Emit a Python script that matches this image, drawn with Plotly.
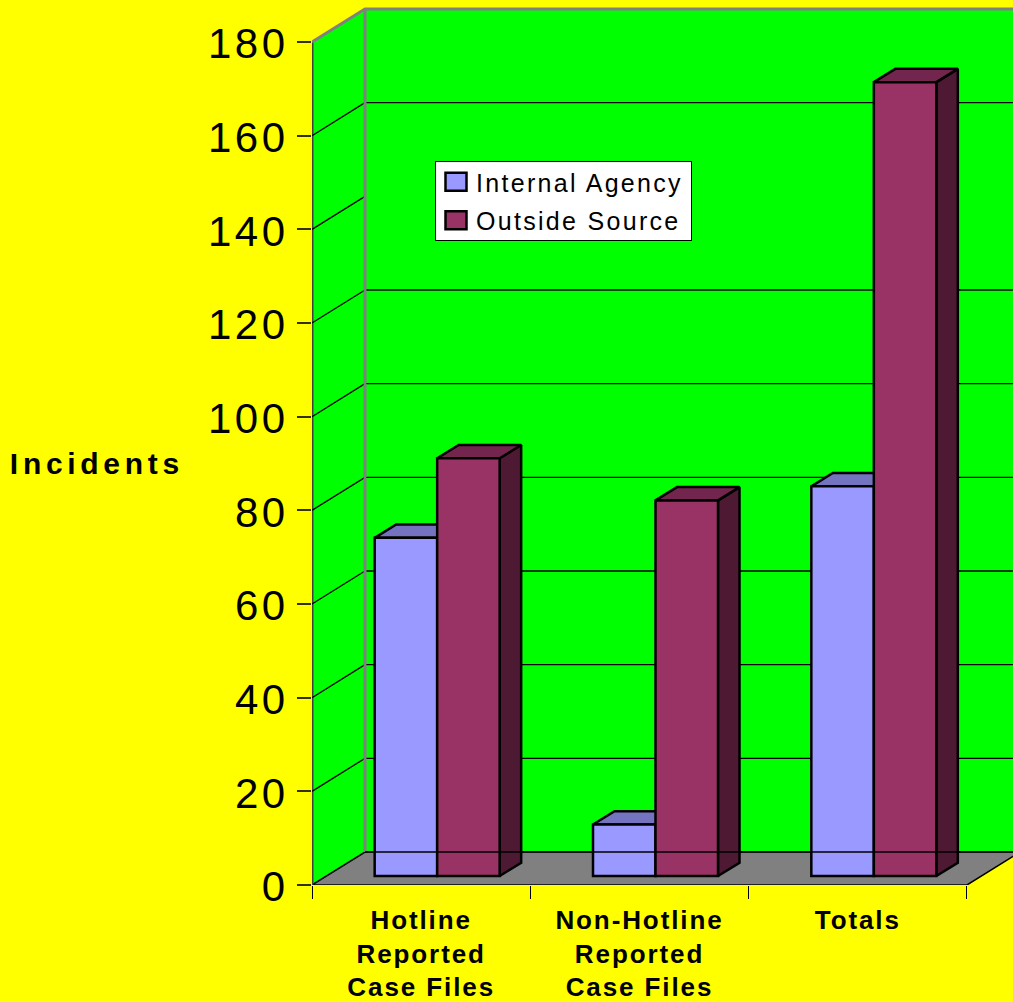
import plotly.graph_objects as go

# Incident counts by category and source
categories = ["Hotline<br>Reported<br>Case Files", "Non-Hotline<br>Reported<br>Case Files", "Totals"]
internal_agency = [72.2, 11, 83.2]
outside_source = [89.2, 80.2, 169.5]
y_ticks = [0, 20, 40, 60, 80, 100, 120, 140, 160, 180]
side_wall_grid = [20, 40, 60, 80, 100, 120, 140, 160]
back_wall_grid = [20, 40, 60, 80, 100, 120, 160]

# Pixel scale of the plotting box and the oblique projection, in axis units
PX_PER_CAT = 218.33
PX_PER_UNIT = 843 / 180
WALL_DX, WALL_DY = 53 / PX_PER_CAT, 33 / PX_PER_UNIT
FRONT_DX, FRONT_DY = 16 / PX_PER_CAT, 9 / PX_PER_UNIT
BAR_DX, BAR_DY = 21.5 / PX_PER_CAT, 13.3 / PX_PER_UNIT
GROUP_WIDTH = 125 / PX_PER_CAT
BAR_W = GROUP_WIDTH / 2
X_MAX = 701 / PX_PER_CAT
Y_MAX = 885 / PX_PER_UNIT

FONT = "Liberation Sans"
GREEN, GREY = "#00FF00", "#808080"
EDGE = 2.5
n = len(categories)
top = y_ticks[-1]
centers = [i + 0.5 for i in range(n)]


def poly(points):
    return "M" + "L".join(f"{x},{y}" for x, y in points) + "Z"


def faces(values, left_shift):
    """Top and right side faces of a box series, as None-separated polygons."""
    tx, ty, sx, sy = [], [], [], []
    for c, v in zip(centers, values):
        x0 = c + FRONT_DX + left_shift
        x1 = x0 + BAR_W
        y0 = FRONT_DY
        y1 = v + FRONT_DY
        tx += [x0, x1, x1 + BAR_DX, x0 + BAR_DX, x0, None]
        ty += [y1, y1, y1 + BAR_DY, y1 + BAR_DY, y1, None]
        sx += [x1, x1 + BAR_DX, x1 + BAR_DX, x1, x1, None]
        sy += [y0, y0 + BAR_DY, y1 + BAR_DY, y1, y0, None]
    return tx, ty, sx, sy


fig = go.Figure()

# Wall gridlines
gx, gy = [], []
for v in side_wall_grid:
    gx += [0, WALL_DX, None]
    gy += [v, v + WALL_DY, None]
for v in back_wall_grid:
    gx += [WALL_DX, n + WALL_DX, None]
    gy += [v + WALL_DY, v + WALL_DY, None]
fig.add_trace(go.Scatter(x=gx, y=gy, mode="lines", line=dict(color="black", width=1.3),
                         showlegend=False, hoverinfo="skip"))

# Grey frame of the walls
fig.add_trace(go.Scatter(
    x=[WALL_DX, WALL_DX, None, 0, WALL_DX, n + WALL_DX],
    y=[WALL_DY, top + WALL_DY, None, top, top + WALL_DY, top + WALL_DY],
    mode="lines", line=dict(color=GREY, width=3), showlegend=False, hoverinfo="skip"))

# Depth faces sit underneath the front faces, which live on the overlay axes
series = [
    ("Internal Agency", internal_agency, "#9999FF", "#7373BF", "#4D4D80", -BAR_W),
    ("Outside Source", outside_source, "#993366", "#73264D", "#4D1933", 0),
]
for name, values, front, top_c, side_c, shift in series:
    tx, ty, sx, sy = faces(values, shift)
    fig.add_trace(go.Scatter(x=sx, y=sy, mode="lines", fill="toself", fillcolor=side_c,
                             line=dict(color="black", width=EDGE), showlegend=False, hoverinfo="skip"))
    fig.add_trace(go.Scatter(x=tx, y=ty, mode="lines", fill="toself", fillcolor=top_c,
                             line=dict(color="black", width=EDGE), showlegend=False, hoverinfo="skip"))

for name, values, front, top_c, side_c, shift in series:
    fig.add_trace(go.Bar(
        name=name, x=[c + FRONT_DX for c in centers], y=values, base=[FRONT_DY] * n,
        marker=dict(color=front, line=dict(color="black", width=EDGE)),
        xaxis="x2", yaxis="y2"))

# The rear floor edge stays visible across the boxes
fig.add_trace(go.Scatter(x=[WALL_DX, n + WALL_DX], y=[WALL_DY, WALL_DY], mode="lines",
                         line=dict(color="black", width=1.5), xaxis="x2", yaxis="y2",
                         showlegend=False, hoverinfo="skip"))

shapes = [
    dict(type="path", layer="below", line=dict(width=0), fillcolor=GREEN,
         path=poly([(0, 0), (WALL_DX, WALL_DY), (WALL_DX, top + WALL_DY), (0, top)])),
    dict(type="path", layer="below", line=dict(width=0), fillcolor=GREEN,
         path=poly([(WALL_DX, WALL_DY), (n + WALL_DX, WALL_DY),
                    (n + WALL_DX, top + WALL_DY), (WALL_DX, top + WALL_DY)])),
    dict(type="path", layer="below", line=dict(color="black", width=1.5), fillcolor=GREY,
         path=poly([(0, 0), (n, 0), (n + WALL_DX, WALL_DY), (WALL_DX, WALL_DY)])),
    dict(type="line", layer="below", x0=0, x1=0, y0=0, y1=top, line=dict(color="#404040", width=3)),
]

fig.update_layout(
    width=1013, height=1002,
    margin=dict(l=312, r=0, t=0, b=117, autoexpand=False),
    paper_bgcolor="#FFFF00", plot_bgcolor="#FFFF00",
    font=dict(family=FONT, color="black"),
    barmode="group", bargap=1 - GROUP_WIDTH, bargroupgap=0,
    shapes=shapes,
    xaxis=dict(range=[0, X_MAX], showgrid=False, zeroline=False, showline=False,
               tickmode="array", tickvals=centers, ticktext=[f"<b>{c}</b>" for c in categories],
               tickangle=0, ticks="outside", ticklen=11.5, tickcolor="rgba(0,0,0,0)",
               tickfont=dict(size=26, family=FONT),
               minor=dict(tickmode="array", tickvals=list(range(n + 1)), ticks="outside",
                          ticklen=13, tickcolor="black", tickwidth=1, showgrid=False)),
    yaxis=dict(range=[0, Y_MAX], showgrid=False, zeroline=False, showline=False,
               tickmode="array", tickvals=y_ticks, ticks="outside", ticklen=14,
               tickcolor="#333300", tickwidth=1.5, tickfont=dict(size=42, family=FONT)),
    xaxis2=dict(overlaying="x", matches="x", visible=False),
    yaxis2=dict(overlaying="y", matches="y", visible=False),
    legend=dict(x=123 / 701, y=1 - 161 / 885, xanchor="left", yanchor="top",
                bgcolor="white", bordercolor="black", borderwidth=1,
                font=dict(size=25, family=FONT),
                itemclick=False, itemdoubleclick=False, traceorder="normal"),
    annotations=[dict(text="<b>Incidents</b>", xref="paper", yref="paper",
                      x=(97 - 312) / 701, y=1 - 463 / 885, xanchor="center", yanchor="middle",
                      showarrow=False, font=dict(size=30, family=FONT))],
)

# Wide tracking on the labels, larger legend keys, tighter legend rows and a wider box
spacing_js = """
const track = (sel, px) => document.querySelectorAll(sel).forEach(t => {
  t.style.letterSpacing = px + 'px';
});
track('.ytick text', 3.5);
track('.xtick text', 1.9);
track('.annotation-text', 4.7);
track('.legendtext', 2.3);
document.querySelectorAll('.ytick text').forEach(t => t.setAttribute('dy', '1.5'));
document.querySelectorAll('.legendpoints path').forEach(p => {
  const own = p.getAttribute('transform') || '';
  p.setAttribute('transform', own + ' scale(1.75,1.5)');
  p.style.vectorEffect = 'non-scaling-stroke';
});
const rows = document.querySelectorAll('.legend .traces');
if (rows.length) {
  const m = (rows[0].getAttribute('transform') || '').match(/translate\\(([^,]+),\\s*([^)]+)\\)/);
  if (m) rows[0].setAttribute('transform', `translate(${m[1]},${parseFloat(m[2]) - 3})`);
}
const bg = document.querySelector('.legend .bg');
if (bg) {
  bg.setAttribute('height', parseFloat(bg.getAttribute('height')) - 3);
  bg.setAttribute('width', 256);
}
document.querySelectorAll('.legend .scrollbox').forEach(s => {
  s.removeAttribute('clip-path');
  s.style.clipPath = 'none';
});
"""

fig.write_html("out.html", post_script=spacing_js)
